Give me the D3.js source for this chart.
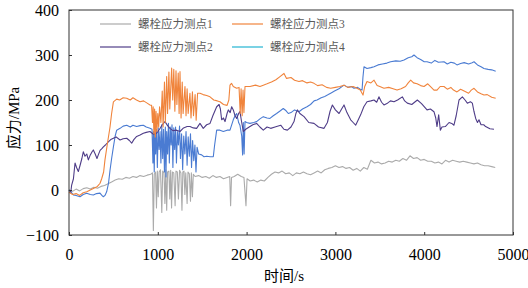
<!DOCTYPE html>
<html>
<head>
<meta charset="utf-8">
<script src="https://d3js.org/d3.v7.min.js"></script>
<style>
  body { margin: 0; background: #fff; }
  svg { display: block; }
  text { font-family: "Liberation Serif", "Noto Sans CJK SC", serif; }
</style>
</head>
<body>
<svg id="chart"></svg>
<script>
// Series data: [time s, stress MPa]
const point1 = [[0,0],[40,-3],[80,2],[120,-2],[160,3],[200,5],[240,2],[280,6],[320,4],[360,8],[400,10],[440,14],[480,18],[520,22],[560,25],[600,24],[640,28],[680,26],[720,30],[760,28],[800,32],[840,30],[880,33],[920,35],
  [940,38],[950,-90],[960,35],[975,40],[985,-40],[995,42],[1005,-15],[1015,40],[1030,45],[1045,-50],[1055,42],[1070,38],[1080,-30],[1090,45],[1100,-45],[1110,40],[1125,42],[1135,-20],[1145,44],[1155,-40],[1165,40],[1180,38],[1195,-35],[1205,42],[1220,40],[1232,-20],[1245,44],[1260,38],[1272,-45],[1282,40],[1295,42],[1305,-10],[1315,38],[1330,-30],[1340,40],[1355,36],[1368,-25],[1378,38],[1390,-15],[1400,35],[1420,30],
  [1460,32],[1500,28],[1540,30],[1580,26],[1620,32],[1660,28],[1700,30],[1740,25],[1780,28],[1810,30],[1820,-35],[1830,28],[1860,30],[1900,35],[1940,30],[1970,28],[1993,-35],[2005,25],[2040,20],[2080,22],[2120,18],[2160,22],[2200,20],[2240,28],[2280,35],[2320,40],[2360,38],[2400,42],[2440,36],[2480,38],[2520,32],[2560,38],[2600,36],[2640,40],[2680,36],[2720,34],[2760,38],[2800,42],[2840,38],[2880,45],[2920,48],[2960,50],[3000,54],[3040,50],[3080,52],[3120,48],[3160,50],[3200,44],[3240,48],[3280,42],[3320,50],[3360,46],[3400,66],[3440,60],[3480,62],[3520,58],[3560,60],[3600,64],[3640,62],[3680,66],[3720,64],[3760,70],[3800,66],[3840,76],[3880,70],[3920,72],[3960,66],[4000,68],[4040,64],[4080,64],[4120,60],[4160,62],[4200,58],[4240,66],[4280,62],[4320,66],[4360,64],[4400,62],[4440,64],[4480,62],[4520,60],[4560,58],[4600,60],[4640,56],[4680,54],[4720,54],[4760,52],[4800,50]];

const point2 = [[0,0],[20,-5],[30,11],[50,25],[68,60],[85,50],[105,41],[125,55],[145,70],[161,85],[180,75],[200,80],[218,67],[240,78],[260,85],[274,89],[295,80],[315,70],[330,78],[350,88],[370,92],[387,96],[410,100],[443,107],[470,112],[500,115],[530,118],[575,111],[610,114],[650,115],[680,110],[706,104],[730,112],[762,119],[800,122],[837,126],[870,128],[912,130],[950,124],[987,126],[1020,135],[1050,145],[1081,152],[1110,143],[1137,137],[1170,132],[1212,133],[1250,130],[1290,138],[1330,141],[1362,141],[1400,138],[1437,137],[1475,148],[1512,137],[1550,145],[1588,148],[1620,165],[1663,185],[1690,190],[1705,180],[1719,156],[1740,160],[1757,152],[1780,170],[1794,178],[1815,172],[1832,185],[1850,178],[1870,165],[1888,159],[1910,170],[1925,174],[1945,150],[1963,130],[1990,135],[2038,141],[2070,145],[2113,148],[2150,140],[2188,133],[2230,140],[2271,137],[2320,140],[2384,144],[2420,135],[2459,133],[2500,140],[2534,152],[2555,170],[2572,178],[2600,170],[2647,163],[2700,150],[2759,148],[2810,140],[2872,137],[2910,150],[2940,175],[2966,189],[3000,178],[3041,170],[3070,180],[3097,189],[3130,172],[3172,156],[3200,150],[3228,144],[3255,155],[3284,167],[3320,185],[3356,196],[3400,198],[3435,200],[3465,195],[3490,207],[3520,195],[3547,189],[3580,192],[3620,198],[3660,196],[3700,200],[3754,207],[3780,198],[3810,193],[3860,190],[3923,200],[3970,192],[4032,178],[4070,180],[4110,174],[4130,160],[4144,141],[4163,167],[4182,133],[4200,140],[4238,141],[4280,150],[4310,148],[4335,144],[4360,165],[4392,200],[4430,207],[4460,200],[4486,193],[4520,196],[4542,193],[4560,175],[4580,159],[4600,150],[4617,156],[4640,145],[4670,145],[4692,141],[4740,136],[4786,135]];

const point3 = [[0,-5],[40,-10],[80,-8],[120,-12],[160,-6],[200,-4],[240,0],[280,4],[320,8],[350,15],[368,25],[390,40],[405,67],[430,100],[462,140],[480,170],[500,196],[537,202],[570,200],[610,205],[650,204],[690,200],[720,205],[760,200],[800,196],[840,198],[880,193],[912,189],[930,188],
  [940,150],[948,185],[956,125],[964,180],[972,118],[980,175],[990,130],[1000,170],[1010,140],[1020,185],
  [1035,150],[1050,220],[1060,140],[1075,240],[1085,150],[1100,252],[1110,170],[1125,262],[1135,180],[1156,271],[1168,200],[1180,268],[1192,175],[1205,265],[1215,190],[1230,260],[1240,170],[1250,263],[1262,160],[1275,240],[1285,170],[1306,230],[1318,165],[1330,225],[1342,170],[1362,215],[1374,160],[1390,218],[1402,165],[1420,212],[1432,155],[1448,215],[1475,215],[1510,212],[1550,210],[1588,207],[1630,200],[1670,198],[1700,196],[1740,190],[1780,188],[1800,200],[1813,233],[1830,237],[1850,230],[1888,226],[1915,228],[1928,170],[1938,225],[1950,165],[1960,222],[1970,172],[1982,230],[2038,230],[2100,233],[2150,230],[2188,233],[2230,236],[2280,240],[2330,245],[2376,252],[2421,259],[2450,248],[2500,250],[2540,244],[2590,241],[2630,243],[2680,238],[2720,240],[2759,237],[2800,232],[2850,234],[2900,228],[2947,226],[3000,228],[3050,230],[3097,233],[3140,228],[3200,230],[3243,226],[3280,222],[3300,215],[3311,211],[3330,230],[3356,241],[3400,238],[3435,244],[3470,232],[3500,230],[3547,226],[3600,228],[3650,225],[3694,222],[3740,225],[3790,230],[3820,238],[3848,244],[3880,238],[3920,236],[3960,232],[3998,230],[4040,236],[4080,228],[4110,222],[4144,222],[4180,230],[4223,230],[4260,224],[4300,228],[4330,222],[4369,218],[4410,224],[4450,220],[4500,215],[4530,222],[4561,226],[4600,218],[4640,214],[4673,211],[4710,212],[4760,206],[4805,204]];

const point4 = [[0,0],[25,-5],[49,-11],[80,-12],[124,-15],[160,-10],[199,-7],[240,-10],[274,-11],[310,-8],[349,-7],[370,-12],[387,-15],[405,-12],[424,-4],[445,15],[462,44],[480,70],[500,96],[520,120],[537,133],[575,137],[610,142],[650,144],[690,140],[720,144],[762,141],[800,143],[837,144],[870,140],[912,137],[935,135],
  [945,60],[952,130],[960,40],[968,140],[976,80],[985,135],[995,50],[1005,138],[1015,90],[1025,130],[1035,60],[1045,145],[1055,70],[1065,135],[1075,40],[1085,140],[1092,29],[1100,130],[1110,80],[1120,148],[1130,60],[1140,140],[1150,100],[1160,145],[1170,50],[1180,138],[1190,90],[1200,140],[1210,60],[1222,130],[1232,100],[1245,142],[1255,70],[1268,125],[1280,45],[1292,120],[1305,80],[1318,130],[1330,55],[1342,118],[1355,75],[1368,125],[1380,50],[1392,110],[1405,65],[1418,100],[1430,40],[1442,95],[1460,80],[1494,78],[1520,74],[1550,75],[1590,74],[1625,74],[1640,100],[1663,133],[1700,133],[1738,130],[1780,133],[1813,133],[1850,156],[1870,165],[1888,170],[1910,150],[1925,144],[1945,120],[1955,78],[1963,150],[1972,80],[1982,152],[2000,150],[2038,148],[2080,150],[2113,152],[2150,158],[2188,163],[2230,160],[2263,159],[2300,165],[2338,170],[2380,176],[2413,181],[2445,176],[2470,170],[2500,172],[2540,178],[2590,174],[2630,180],[2680,185],[2720,190],[2760,198],[2793,200],[2840,205],[2880,208],[2920,212],[2947,215],[2990,220],[3040,225],[3097,233],[3140,228],[3180,230],[3209,226],[3250,228],[3280,224],[3300,222],[3310,250],[3322,274],[3356,270],[3400,272],[3435,274],[3480,278],[3530,280],[3580,282],[3622,285],[3680,287],[3730,286],[3773,289],[3820,294],[3860,296],[3885,300],[3920,294],[3960,290],[4000,285],[4032,285],[4080,282],[4120,288],[4160,284],[4223,285],[4260,280],[4300,284],[4340,282],[4369,278],[4410,281],[4450,283],[4500,280],[4540,283],[4561,285],[4600,278],[4640,274],[4673,270],[4720,268],[4760,267],[4805,264]];

const seriesNames = ["螺栓应力测点1", "螺栓应力测点2", "螺栓应力测点3", "螺栓应力测点4"];
const xTicks = [0, 1000, 2000, 3000, 4000, 5000];
const yTicks = [-100, 0, 100, 200, 300, 400];

// Layout
const W = 528, H = 288;
const margin = { top: 10, right: 15, bottom: 53, left: 69 };
const width = W - margin.left - margin.right;
const height = H - margin.top - margin.bottom;

const svg = d3.select("#chart").attr("width", W).attr("height", H);
const g = svg.append("g").attr("transform", `translate(${margin.left},${margin.top})`);

const x = d3.scaleLinear().domain([0, 5000]).range([0, width]);
const y = d3.scaleLinear().domain([-100, 400]).range([height, 0]);

const series = [
  { data: point1, color: "#ababab", legend: "#ababab" },
  { data: point2, color: "#4f3d88", legend: "#4f3d88" },
  { data: point3, color: "#f0843c", legend: "#f0843c" },
  { data: point4, color: "#4a7bd2", legend: "#22b4d2" }
];

const line = d3.line().x(d => x(d[0])).y(d => y(d[1]));

// draw order: gray, blue, purple, orange
[0, 3, 1, 2].forEach(i => {
  g.append("path")
    .datum(series[i].data)
    .attr("fill", "none")
    .attr("stroke", series[i].color)
    .attr("stroke-width", 1.1)
    .attr("stroke-linejoin", "round")
    .attr("d", line);
});

// Axes with inward ticks
const xAxis = g.append("g")
  .attr("transform", `translate(0,${height})`)
  .call(d3.axisBottom(x).tickValues(xTicks).tickSizeInner(-3).tickSizeOuter(0).tickPadding(14)
    .tickFormat(d3.format("d")));
const yAxis = g.append("g")
  .call(d3.axisLeft(y).tickValues(yTicks).tickSizeInner(-3).tickSizeOuter(0).tickPadding(10)
    .tickFormat(d => d < 0 ? "\u2212" + Math.abs(d) : String(d)));

[xAxis, yAxis].forEach(a => {
  a.select(".domain").remove();
  a.selectAll(".tick line").attr("stroke", "#333");
  a.selectAll(".tick text")
    .attr("fill", "#000")
    .style("font-family", "'Liberation Serif', serif")
    .style("font-size", "16px");
});

// frame
g.append("rect")
  .attr("width", width).attr("height", height)
  .attr("fill", "none").attr("stroke", "#333").attr("stroke-width", 1);

// Axis titles
svg.append("text")
  .attr("x", 284).attr("y", 281)
  .attr("text-anchor", "middle")
  .style("font-size", "15px")
  .text("时间/s");

svg.append("text")
  .attr("transform", "translate(19,118) rotate(-90)")
  .attr("text-anchor", "middle")
  .style("font-size", "15px")
  .text("应力/MPa");

// Legend
const legendPos = [[100, 24], [100, 47], [232, 24], [232, 47]];
seriesNames.forEach((name, i) => {
  const [lx, ly] = legendPos[i];
  svg.append("line")
    .attr("x1", lx).attr("x2", lx + 31)
    .attr("y1", ly).attr("y2", ly)
    .attr("stroke", series[i].legend).attr("stroke-width", 1.2);
  svg.append("text")
    .attr("x", lx + 38).attr("y", ly + 4)
    .attr("fill", "#595959")
    .style("font-size", "11.5px")
    .text(name);
});
</script>
</body>
</html>
